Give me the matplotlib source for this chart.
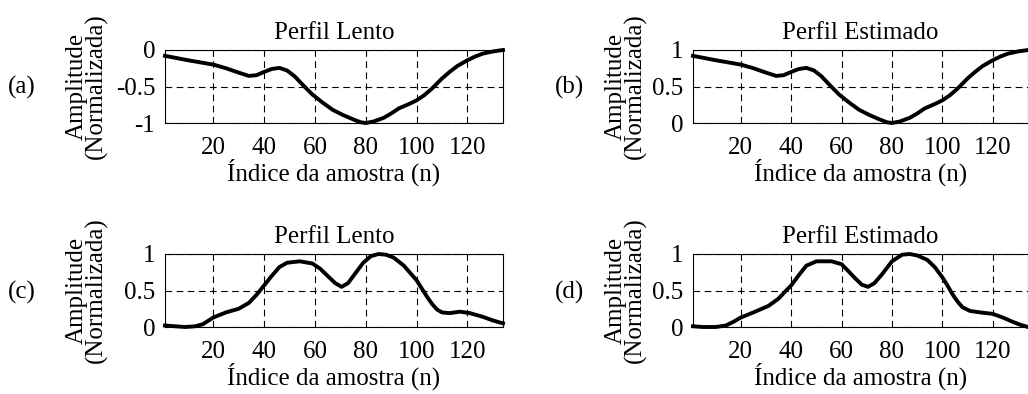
import matplotlib
matplotlib.use('Agg')
import matplotlib.pyplot as plt

# sample index and amplitudes
n_a = [1, 10, 20, 25, 30, 34, 37, 40, 43, 46, 49, 52, 55, 59, 63, 67, 71, 75, 78, 80, 83, 87, 90, 93, 97, 100, 103, 106, 110, 113, 116, 120, 123, 126, 130, 134]
slow_a = [-0.08, -0.14, -0.2, -0.25, -0.31, -0.355, -0.345, -0.3, -0.26, -0.245, -0.28, -0.36, -0.47, -0.61, -0.72, -0.82, -0.89, -0.95, -0.99, -1.0, -0.98, -0.93, -0.87, -0.8, -0.74, -0.69, -0.62, -0.53, -0.39, -0.3, -0.22, -0.14, -0.09, -0.05, -0.02, 0.0]

n_b = [1, 10, 20, 25, 30, 34, 37, 40, 43, 46, 49, 52, 55, 59, 63, 67, 71, 75, 78, 80, 83, 87, 90, 93, 97, 100, 103, 106, 110, 113, 116, 120, 123, 126, 130, 134]
est_b = [0.92, 0.86, 0.8, 0.75, 0.69, 0.645, 0.655, 0.7, 0.74, 0.755, 0.72, 0.64, 0.53, 0.39, 0.28, 0.18, 0.11, 0.05, 0.01, 0.0, 0.02, 0.07, 0.13, 0.2, 0.26, 0.31, 0.38, 0.47, 0.61, 0.7, 0.78, 0.86, 0.91, 0.95, 0.98, 1.0]

n_c = [1, 5, 9, 13, 16, 20, 25, 30, 34, 37, 40, 43, 46, 49, 54, 59, 62, 65, 68, 70.5, 73, 76, 79, 82, 85, 88, 91, 95, 98, 100, 102, 104, 106, 108, 110, 113, 117, 121, 126, 130, 134]
slow_c = [0.02, 0.01, 0.0, 0.01, 0.04, 0.13, 0.2, 0.25, 0.33, 0.44, 0.57, 0.7, 0.82, 0.88, 0.9, 0.87, 0.8, 0.7, 0.6, 0.55, 0.6, 0.74, 0.88, 0.97, 1.0, 0.99, 0.95, 0.84, 0.72, 0.64, 0.53, 0.42, 0.32, 0.24, 0.2, 0.19, 0.21, 0.19, 0.14, 0.09, 0.05]

n_d = [1, 5, 10, 14, 17, 20, 25, 31, 35, 38, 40, 43, 46, 50, 56, 60, 62, 65, 68, 70.5, 73, 76, 80, 84, 87, 90, 94, 97, 100, 102, 104, 106, 108, 111, 115, 120, 124, 128, 131, 134]
est_d = [0.01, 0.0, 0.0, 0.02, 0.07, 0.13, 0.2, 0.29, 0.39, 0.5, 0.57, 0.71, 0.84, 0.9, 0.9, 0.86, 0.79, 0.68, 0.58, 0.55, 0.6, 0.72, 0.9, 0.99, 1.0, 0.98, 0.92, 0.82, 0.68, 0.57, 0.45, 0.35, 0.27, 0.22, 0.2, 0.18, 0.13, 0.07, 0.03, 0.0]

titles = ['Perfil Lento', 'Perfil Estimado', 'Perfil Lento', 'Perfil Estimado']
tags = ['(a)', '(b)', '(c)', '(d)']
xticks = [20, 40, 60, 80, 100, 120]

plt.rcParams['font.family'] = ['Liberation Serif', 'DejaVu Serif']
fs = 18

fig = plt.figure(figsize=(10.28, 3.94), dpi=100)
W, H = 1028.0, 394.0

# axes boxes in pixels: left, top, right, bottom
boxes = [(165, 50, 503, 123), (693, 50, 1028, 123), (165, 254, 503, 327), (693, 254, 1028, 327)]
series = [(n_a, slow_a), (n_b, est_b), (n_c, slow_c), (n_d, est_d)]
tag_pos = [(22, 87), (570, 87), (22, 292), (570, 292)]
label_x = [-0.168, -0.137, -0.168, -0.137]

for i in range(4):
    l, t, r, b = boxes[i]
    ax = fig.add_axes([l / W, 1 - b / H, (r - l) / W, (b - t) / H])
    x, y = series[i]
    ax.plot(x, y, '-k', linewidth=2.8, solid_joinstyle='round', clip_on=False, zorder=3)
    ax.set_xlim(1, 134)
    if i == 0:
        ax.set_ylim(-1, 0)
        ax.set_yticks([-1, -0.5, 0])
        ax.set_yticklabels(['-1', '-0.5', '0'])
    else:
        ax.set_ylim(0, 1)
        ax.set_yticks([0, 0.5, 1])
        ax.set_yticklabels(['0', '0.5', '1'])
    ax.set_xticks(xticks)
    ax.grid(True, color='k', linestyle=(0, (6, 4)), linewidth=0.8)
    ax.tick_params(length=0, labelsize=fs)
    ax.tick_params(axis='x', pad=10)
    ax.tick_params(axis='y', pad=7)
    for s in ax.spines.values():
        s.set_linewidth(0.8)
    ax.set_title(titles[i], fontsize=fs, pad=8)
    ax.set_xlabel('Índice da amostra (n)', fontsize=fs, labelpad=0)
    ax.set_ylabel('Amplitude\n(Normalizada)', fontsize=fs, linespacing=0.85)
    ax.yaxis.set_label_coords(label_x[i], 0.5)
    fig.text(tag_pos[i][0] / W, 1 - tag_pos[i][1] / H, tags[i], fontsize=fs,
             ha='center', va='center')

fig.savefig('out.png', dpi=100)
